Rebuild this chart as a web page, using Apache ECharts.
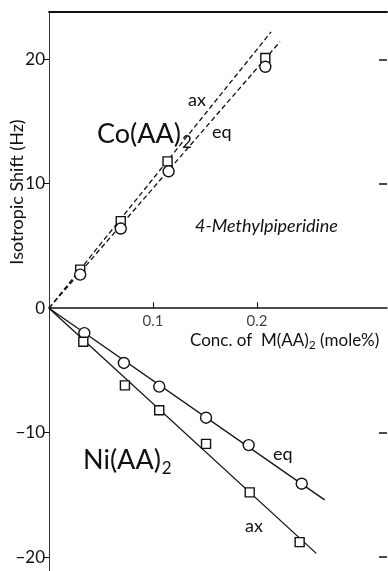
<!DOCTYPE html>
<html>
<head>
<meta charset="utf-8">
<script src="https://cdn.jsdelivr.net/npm/echarts@6/dist/echarts.min.js"></script>
<style>
html, body { margin: 0; padding: 0; background: #fff; }
#chart { width: 388px; height: 571px; }
</style>
</head>
<body>
<div id="chart"></div>
<script>
// 数据 (Hz vs mole%)
var coAxPts = [[0.030, 3.1], [0.069, 7.0], [0.114, 11.8], [0.208, 20.1]];
var coEqPts = [[0.030, 2.7], [0.069, 6.4], [0.115, 11.0], [0.208, 19.4]];
var niEqPts = [[0.034, -2.0], [0.072, -4.4], [0.106, -6.3], [0.151, -8.8], [0.192, -11.0], [0.243, -14.1]];
var niAxPts = [[0.033, -2.7], [0.073, -6.2], [0.106, -8.2], [0.151, -10.9], [0.193, -14.8], [0.241, -18.8]];
// 拟合直线
var coAxFit = [[0, 0], [0.2135, 22.2]];
var coEqFit = [[0, 0], [0.222, 21.4]];
var niEqFit = [[0, 0], [0.265, -15.4]];
var niAxFit = [[0, 0], [0.257, -19.7]];
// 刻度
var yTicks = [-20, -10, 0, 10, 20];
var xTicks = [0.1, 0.2];

var font = 'Lato';
var ink = '#111';

var chart = echarts.init(document.getElementById('chart'));

function fitLine(data, dashed) {
	return {
		type: 'line',
		data: data,
		symbol: 'none',
		silent: true,
		z: 2,
		lineStyle: { color: ink, width: 1.3, type: dashed ? [5, 3] : 'solid' }
	};
}
function pts(data, shape, size) {
	return {
		type: 'scatter',
		data: data,
		symbol: shape,
		symbolSize: size,
		z: 5,
		itemStyle: { color: '#fff', borderColor: ink, borderWidth: 1.4, opacity: 1 }
	};
}

var option = {
	animation: false,
	backgroundColor: '#fff',
	grid: { left: 49, top: 12, width: 338, height: 570, containLabel: false, outerBoundsMode: 'none' },
	xAxis: [
		{
			type: 'value', min: 0, max: 0.325, position: 'bottom',
			splitLine: { show: false },
			axisLine: { onZero: true, lineStyle: { color: ink, width: 1.5 } },
			axisTick: { inside: true, length: 6, customValues: xTicks, lineStyle: { color: ink } },
			axisLabel: { show: false }
		},
		{
			type: 'value', min: 0, max: 0.325, position: 'top',
			splitLine: { show: false },
			axisLine: { show: true, onZero: false, lineStyle: { color: ink, width: 2 } },
			axisTick: { show: false }, axisLabel: { show: false }
		}
	],
	yAxis: [
		{
			type: 'value', min: -22, max: 23.8, position: 'left',
			splitLine: { show: false },
			axisLine: { onZero: false, lineStyle: { color: '#333', width: 1 } },
			axisTick: { length: 5, customValues: [-20, -10, 10, 20], lineStyle: { color: ink } },
			axisLabel: { customValues: yTicks, color: ink, fontFamily: font, fontSize: 17, margin: 4,
				formatter: function (v) { return String(v).replace('-', '\u2212'); } }
		},
		{
			type: 'value', min: -22, max: 23.8, position: 'right',
			splitLine: { show: false },
			axisLine: { show: false, onZero: false },
			axisTick: { inside: true, length: 8, customValues: [-20, -10, 10, 20], lineStyle: { color: ink, width: 1.5 } },
			axisLabel: { show: false }
		}
	],
	series: [
		fitLine(coAxFit, true),
		fitLine(coEqFit, true),
		fitLine(niEqFit, false),
		fitLine(niAxFit, false),
		pts(coAxPts, 'rect', 9),
		pts(coEqPts, 'circle', 11),
		pts(niEqPts, 'circle', 11),
		pts(niAxPts, 'rect', 9),
		// x 轴刻度文字 (跟着 y=0 的轴线)
		{
			type: 'scatter',
			data: xTicks.map(function (v) { return [v, 0]; }),
			symbolSize: 0,
			silent: true,
			label: {
				show: true, position: 'bottom', distance: 5,
				color: ink, fontFamily: font, fontSize: 15,
				formatter: function (p) { return p.value[0].toFixed(1); }
			}
		}
	],
	graphic: [
		{ type: 'text', x: 17, y: 192, rotation: Math.PI / 2, style: { text: 'Isotropic Shift (Hz)', font: '18px ' + font, fill: ink, align: 'center', verticalAlign: 'middle' } },
		{ type: 'text', x: 190, y: 330, style: {
			text: '{a|Conc. of  M(AA)}{s|2}{a| (mole%)}',
			rich: { a: { font: '17px ' + font, fill: ink }, s: { font: '12px ' + font, fill: ink, padding: [9, 0, 0, 0] } }
		} },
		{ type: 'text', x: 97, y: 118, style: {
			text: '{a|Co(AA)}{s|2}',
			rich: { a: { font: '27px ' + font, fill: ink }, s: { font: '17px ' + font, fill: ink, padding: [16, 0, 0, 1] } }
		} },
		{ type: 'text', x: 83, y: 444, style: {
			text: '{a|Ni(AA)}{s|2}',
			rich: { a: { font: '27px ' + font, fill: ink }, s: { font: '17px ' + font, fill: ink, padding: [16, 0, 0, 1] } }
		} },
		{ type: 'text', x: 188, y: 91, style: { text: 'ax', font: '18px ' + font, fill: ink } },
		{ type: 'text', x: 212, y: 123, style: { text: 'eq', font: '18px ' + font, fill: ink } },
		{ type: 'text', x: 195, y: 217, style: { text: '4-Methylpiperidine', font: 'italic 18px ' + font, fill: ink } },
		{ type: 'text', x: 273, y: 445, style: { text: 'eq', font: '18px ' + font, fill: ink } },
		{ type: 'text', x: 245, y: 517, style: { text: 'ax', font: '18px ' + font, fill: ink } }
	]
};
chart.setOption(option);
</script>
</body>
</html>
